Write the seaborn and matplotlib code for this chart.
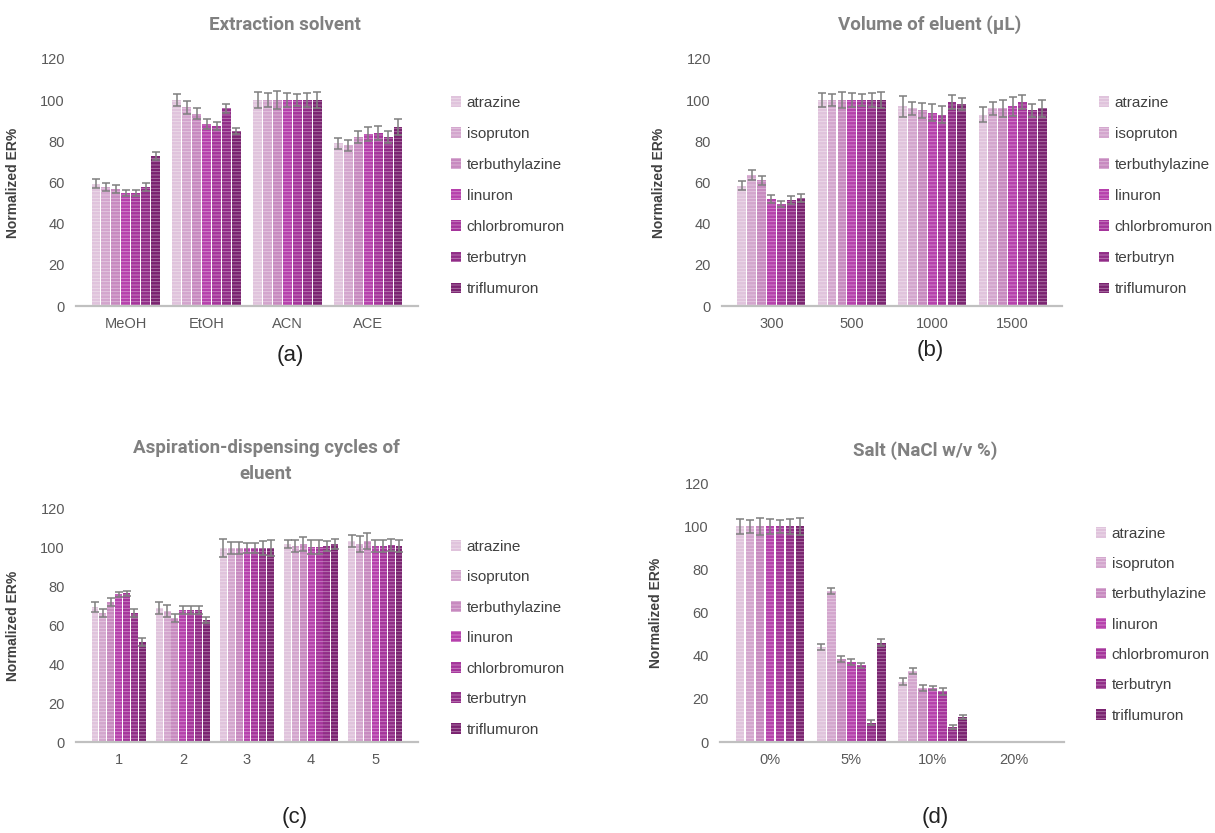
import matplotlib
matplotlib.use("Agg")
import matplotlib.pyplot as plt
import matplotlib.patches as mpatches
import seaborn as sns
import pandas as pd

# compounds (hue levels) and their colours
compounds = ["atrazine", "isopruton", "terbuthylazine", "linuron",
             "chlorbromuron", "terbutryn", "triflumuron"]
colors = ["#e0c3dc", "#d3a5cd", "#c789bf", "#b640ac", "#a5349b", "#912c87", "#7a2370"]

# (a) extraction solvent
solvents = ["MeOH", "EtOH", "ACN", "ACE"]
er_solvent = [
    [59.5, 100, 100, 79],
    [58, 96.5, 100, 78],
    [57, 93.5, 100, 82],
    [55, 88.5, 100, 83.5],
    [55, 87.5, 100, 84],
    [58, 96, 100, 82],
    [73, 85, 100, 87],
]
err_solvent = [
    [2, 3, 4, 2.5],
    [2, 3, 3.5, 2.5],
    [2, 2.5, 4.5, 3],
    [1.5, 2.5, 3.5, 3.5],
    [1.5, 2, 3, 3.5],
    [2, 2, 3.5, 3],
    [2, 1.5, 4, 4],
]

# (b) volume of eluent
volumes = ["300", "500", "1000", "1500"]
er_volume = [
    [58.5, 100, 97, 93],
    [63.5, 100, 96, 96],
    [61, 100, 95, 96],
    [52, 100, 94, 97],
    [49.5, 100, 93, 99],
    [51.5, 100, 99, 95],
    [52.5, 100, 98, 96],
]
err_volume = [
    [2, 3.5, 5, 3.5],
    [2.5, 3, 3, 3],
    [2, 4, 3.5, 4],
    [2, 3.5, 4, 4.5],
    [1.5, 3, 4, 3.5],
    [2, 3.5, 3.5, 3],
    [2, 4, 3, 4],
]

# (c) aspiration-dispensing cycles
cycles = ["1", "2", "3", "4", "5"]
er_cycles = [
    [69.5, 69, 100, 102, 103.5],
    [66.5, 67.5, 100, 101, 102],
    [72, 64, 100, 102, 103.5],
    [76, 68, 100, 100.5, 101],
    [76.5, 68, 100, 100.5, 101],
    [66.5, 68, 100, 101, 101.5],
    [51.5, 63, 100, 102, 101],
]
err_cycles = [
    [2.5, 3, 4.5, 2, 3],
    [2, 3, 3, 3, 4],
    [2, 2, 3, 3.5, 4],
    [1.5, 2, 2.5, 3.5, 3],
    [1.5, 2, 2.5, 3.5, 3],
    [2, 2, 3.5, 2.5, 3],
    [2, 1.5, 4, 2.5, 3],
]

# (d) salt
salts = ["0%", "5%", "10%", "20%"]
er_salt = [
    [100, 44, 28, 0],
    [100, 70, 33, 0],
    [100, 38.5, 25, 0],
    [100, 37, 25, 0],
    [100, 35.5, 23.5, 0],
    [100, 9, 7, 0],
    [100, 46, 11.5, 0],
]
err_salt = [
    [3.5, 1.5, 1.5, 0],
    [3, 1.5, 1.5, 0],
    [4, 1.5, 1.5, 0],
    [3.5, 1.5, 1, 0],
    [3, 1, 1.5, 0],
    [3.5, 1, 0.8, 0],
    [4, 1.5, 1, 0],
]

HATCH = "-----"
HATCH_COL = (1, 1, 1, 0.4)


def to_long(cats, values, errs):
    rows = []
    for comp, vals, es in zip(compounds, values, errs):
        for c, v, e in zip(cats, vals, es):
            rows.append({"cat": c, "compound": comp, "er": v, "err": e})
    return pd.DataFrame(rows)


def draw_panel(fig, rect, cats, values, errs, title_xy, title, label_xy, label,
               legend_xy, spacing=1.12):
    ax = fig.add_axes(rect)
    df = to_long(cats, values, errs)
    sns.barplot(data=df, x="cat", y="er", hue="compound", order=cats,
                hue_order=compounds, palette=colors, saturation=1, width=0.86, gap=0.12,
                errorbar=None, legend=False, ax=ax)
    for cont, comp, es in zip(ax.containers, compounds, errs):
        for bar, e in zip(cont, es):
            bar.set_hatch(HATCH)
            bar.set_edgecolor(HATCH_COL)
            bar.set_linewidth(0)
            if e > 0:
                ax.errorbar(bar.get_x() + bar.get_width() / 2, bar.get_height(), yerr=e,
                            fmt="none", ecolor="#7f7f7f", elinewidth=1.1, capsize=3,
                            capthick=1.1, zorder=5)
    ax.set_ylim(0, 120)
    ax.set_yticks(range(0, 121, 20))
    ax.set_xlabel("")
    ax.set_ylabel("Normalized ER%", fontsize=10, fontweight="bold", color="#404040")
    ax.yaxis.set_label_coords(-0.165, 0.5)
    for s in ["top", "right", "left"]:
        ax.spines[s].set_visible(False)
    ax.spines["bottom"].set_color("#c0c0c0")
    ax.spines["bottom"].set_linewidth(1.6)
    ax.tick_params(length=0, labelsize=10.5, labelcolor="#595959", pad=8)
    ax.grid(False)

    handles = [mpatches.Patch(facecolor=c, hatch=HATCH, edgecolor=HATCH_COL, linewidth=0)
               for c in colors]
    fig.legend(handles, compounds, loc="upper left", bbox_to_anchor=legend_xy,
               frameon=False, fontsize=11, labelcolor="#404040", handlelength=0.7,
               handleheight=0.7, handletextpad=0.35, labelspacing=spacing, borderpad=0)

    fig.text(title_xy[0], title_xy[1], title, ha="center", va="center", fontsize=13.5,
             fontweight="bold", color="#808080", linespacing=1.6,
             family=["Roboto", "DejaVu Sans"])
    fig.text(label_xy[0], label_xy[1], label, ha="center", va="center", fontsize=16,
             color="#222222")
    return ax


W, H = 1215, 833
sns.set_style("white")
plt.rcParams["font.family"] = ["Liberation Sans", "DejaVu Sans"]
plt.rcParams["hatch.linewidth"] = 0.6
fig = plt.figure(figsize=(W / 100, H / 100), dpi=100)


def rect(x0, x1, ytop, ybot):
    return [x0 / W, 1 - ybot / H, (x1 - x0) / W, (ybot - ytop) / H]


def pt(x, y):
    return (x / W, 1 - y / H)


draw_panel(fig, rect(76, 418, 59, 306), solvents, er_solvent, err_solvent,
           pt(285, 25), "Extraction solvent", pt(290, 355), "(a)", pt(443, 88))
draw_panel(fig, rect(722, 1062, 59, 306), volumes, er_volume, err_volume,
           pt(930, 25), "Volume of eluent (μL)", pt(930, 350), "(b)", pt(1091, 88))
draw_panel(fig, rect(76, 418, 509, 742), cycles, er_cycles, err_cycles,
           pt(266, 461), "Aspiration-dispensing cycles of\neluent", pt(295, 818), "(c)",
           pt(443, 532), spacing=1.08)
draw_panel(fig, rect(720, 1064, 483, 742), salts, er_salt, err_salt,
           pt(925, 451), "Salt (NaCl w/v %)", pt(935, 818), "(d)", pt(1088, 519),
           spacing=1.07)

fig.savefig("out.png", dpi=100, facecolor="white")
